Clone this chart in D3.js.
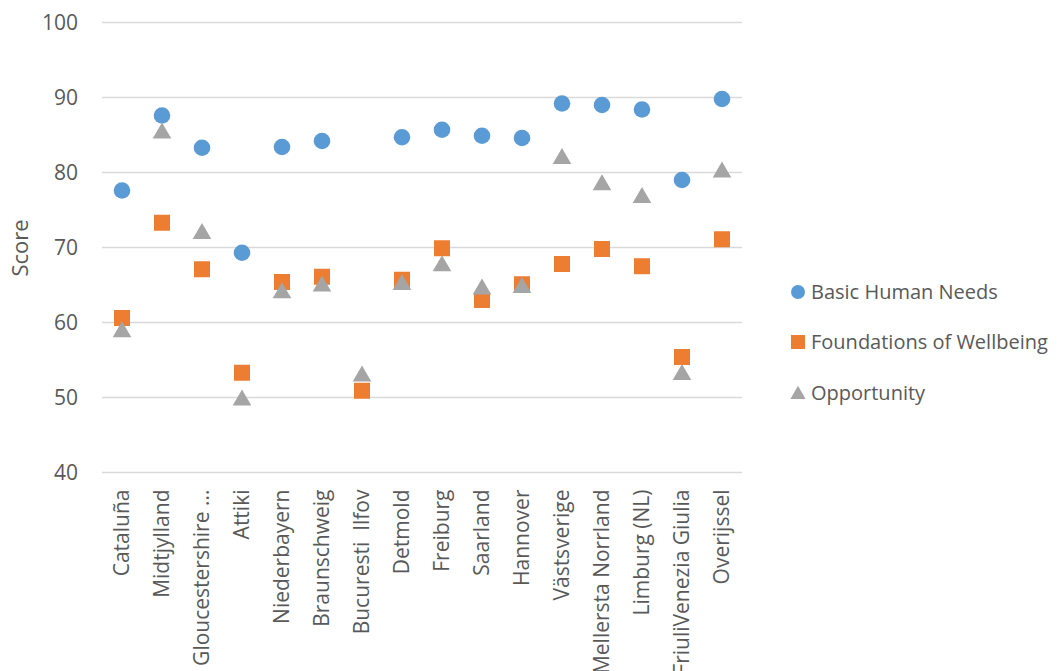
<!DOCTYPE html>
<html><head><meta charset="utf-8">
<script src="https://cdn.jsdelivr.net/npm/d3@7/dist/d3.min.js"></script>
<style>body{margin:0;background:#fff;}svg{display:block;font-family:"Open Sans",sans-serif;}text{white-space:pre;}</style>
</head><body><svg id="c" width="1063" height="671"></svg>
<script>
const categories = ["Cataluña","Midtjylland","Gloucestershire ...","Attiki","Niederbayern","Braunschweig","Bucuresti  Ilfov","Detmold","Freiburg","Saarland","Hannover","Västsverige","Mellersta Norrland","Limburg (NL)","FriuliVenezia Giulia","Overijssel"];
const basicHumanNeeds = [77.6,87.6,83.3,69.3,83.4,84.2,null,84.7,85.7,84.9,84.6,89.2,89.0,88.4,79.0,89.8];
const foundationsOfWellbeing = [60.6,73.3,67.1,53.3,65.4,66.1,50.9,65.7,69.9,63.0,65.1,67.8,69.8,67.5,55.4,71.1];
const opportunity = [59.0,85.5,72.1,49.9,64.2,65.1,53.1,65.3,67.8,64.7,64.9,82.1,78.6,76.9,53.3,80.3];
const yTicks = [40,50,60,70,80,90,100];
const seriesNames = ["Basic Human Needs","Foundations of Wellbeing","Opportunity"];
const seriesColors = ["#5b9bd5","#ed7d31","#a5a5a5"];

const svg = d3.select("#c");
const x = d3.scaleBand().domain(categories).range([102,742]);
const y = d3.scaleLinear().domain([40,100]).range([472.5,22.5]);

// gridlines
svg.append("g").selectAll("line").data(yTicks).join("line")
  .attr("x1",102).attr("x2",742).attr("y1",d=>y(d)).attr("y2",d=>y(d))
  .attr("stroke","#d9d9d9").attr("stroke-width",1.3);

// y axis
const ya = svg.append("g").attr("transform","translate(102,0)")
  .call(d3.axisLeft(y).tickValues(yTicks).tickSize(0).tickPadding(24));
ya.select(".domain").remove();
ya.selectAll("text").attr("font-size",21).attr("fill","#595959").attr("font-family","'Open Sans',sans-serif");

// x axis
const xa = svg.append("g").attr("transform","translate(0,472.5)")
  .call(d3.axisBottom(x).tickSize(0).tickPadding(0));
xa.select(".domain").remove();
xa.selectAll("text").attr("font-size",21).attr("fill","#595959").attr("font-family","'Open Sans',sans-serif")
  .attr("text-anchor","end").attr("transform","rotate(-90)").attr("x",-17).attr("y",0).attr("dy","0.35em")
  .style("white-space","pre");

// y label
svg.append("text").attr("transform","translate(28,248) rotate(-90)").attr("text-anchor","middle")
  .attr("font-size",22).attr("fill","#595959").text("Score");

const cx = d => x(d) + x.bandwidth()/2;
const tri = d3.symbol().type(d3.symbolTriangle).size(150);

function drawSeries(vals, i){
  const data = categories.map((c,k)=>({c,v:vals[k]})).filter(d=>d.v!=null);
  const g = svg.append("g");
  if(i===0){
    g.selectAll("circle").data(data).join("circle").attr("cx",d=>cx(d.c)).attr("cy",d=>y(d.v)).attr("r",8.3).attr("fill",seriesColors[0]);
  } else if(i===1){
    g.selectAll("rect").data(data).join("rect").attr("x",d=>cx(d.c)-8).attr("y",d=>y(d.v)-8).attr("width",16).attr("height",16).attr("fill",seriesColors[1]);
  } else {
    g.selectAll("path").data(data).join("path").attr("transform",d=>`translate(${cx(d.c)},${y(d.v)+2})`).attr("d",tri).attr("fill",seriesColors[2]);
  }
}
drawSeries(basicHumanNeeds,0);
drawSeries(foundationsOfWellbeing,1);
drawSeries(opportunity,2);

// legend
const lg = svg.append("g");
const legY = [292,342,393];
seriesNames.forEach((n,i)=>{
  const gy = legY[i];
  if(i===0) lg.append("circle").attr("cx",798).attr("cy",gy).attr("r",7).attr("fill",seriesColors[0]);
  else if(i===1) lg.append("rect").attr("x",791).attr("y",gy-7).attr("width",14).attr("height",14).attr("fill",seriesColors[1]);
  else lg.append("path").attr("transform",`translate(798,${gy+1.5})`).attr("d",d3.symbol().type(d3.symbolTriangle).size(100)).attr("fill",seriesColors[2]);
  lg.append("text").attr("x",811).attr("y",gy).attr("dy","0.35em").attr("font-size",20).attr("fill","#595959").text(n);
});
</script></body></html>
